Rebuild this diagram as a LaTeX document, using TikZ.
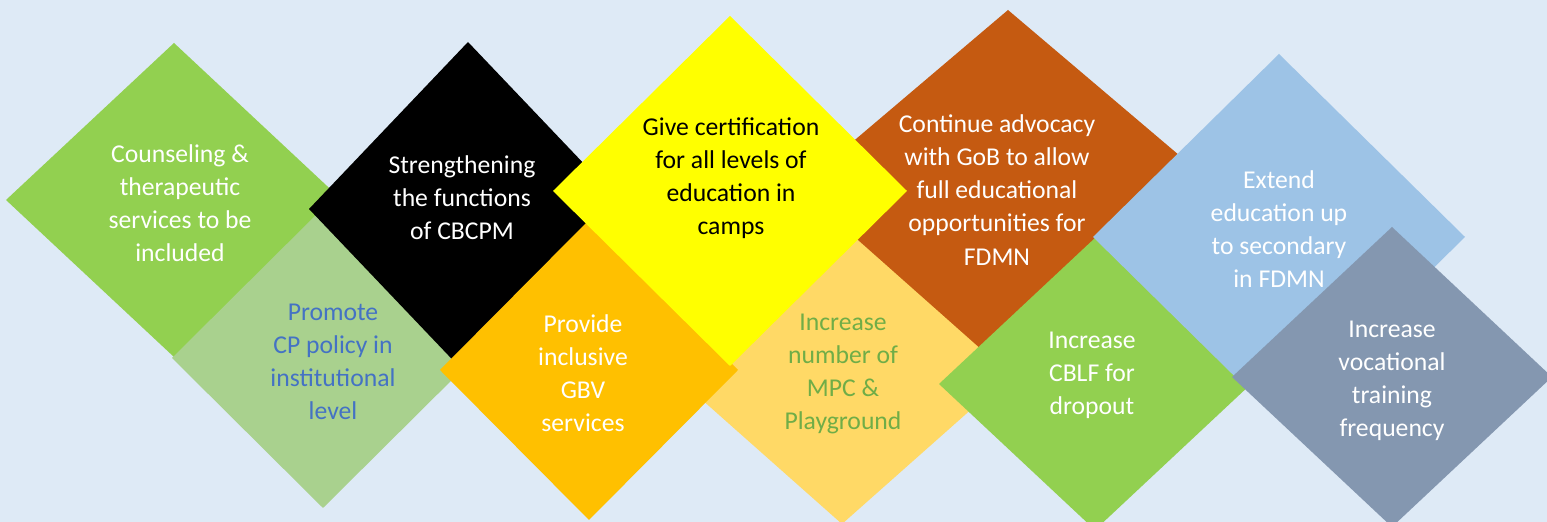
\documentclass[tikz,border=0pt]{standalone}
\usepackage{fontspec}
\setmainfont{Carlito}

\definecolor{PageBg}{HTML}{DEEAF6}
\definecolor{LeafGreen}{HTML}{92D050}
\definecolor{SoftGreen}{HTML}{A9D18E}
\definecolor{Amber}{HTML}{FFC000}
\definecolor{Lemon}{HTML}{FFFF00}
\definecolor{Sand}{HTML}{FFD966}
\definecolor{Rust}{HTML}{C55A11}
\definecolor{Sky}{HTML}{9DC3E6}
\definecolor{Slate}{HTML}{8497B0}
\definecolor{InkBlue}{HTML}{4472C4}
\definecolor{InkGreen}{HTML}{70AD47}

\begin{document}
\begin{tikzpicture}[
    % Environment Config
    x=0.01cm, y=-0.01cm,
    font=\fontsize{7.3}{9.4}\selectfont,
    Tile/.style={% Style for the diamond tiles
      draw=none,
      fill=#1
    },
    TileText/.style={% Style for the text inside a tile
      align=center,
      text=white,
      inner sep=0pt
    }
  ]

  \def\MyTile(#1)#2#3#4{% Custom diamond: centre, half width, half height, colour
    \fill[Tile=#4] (#1) ++(0,-#3) -- ++(#2,#3) -- ++(-#2,#3) -- ++(-#2,-#3) -- cycle;
  }

  % Page background
  \fill[PageBg] (0,0) rectangle (1547,522);
  \useasboundingbox (0,0) rectangle (1547,522);

  % Put the tiles in drawing order (back to front)
  \MyTile(174,200){168}{157}{LeafGreen}
  \MyTile(323,358){151}{150}{SoftGreen}
  \MyTile(468,209){159}{167}{black}
  \MyTile(1008,195){218}{185}{Rust}
  \MyTile(842,375){168}{149}{Sand}
  \MyTile(589,370){149}{150}{Amber}
  \MyTile(730,191){177}{175}{Lemon}
  \MyTile(1095,384){156}{146}{LeafGreen}
  \MyTile(1279,237){186}{183}{Sky}
  \MyTile(1392,377){160}{150}{Slate}

  % Texts of the tiles
  \node[TileText] (counsel) at (180,203) {Counseling \&\\therapeutic\\services to be\\included};
  \node[TileText,text=InkBlue] (promote) at (333,362) {Promote\\CP policy in\\institutional\\level};
  \node[TileText] (cbcpm) at (462,198) {Strengthening\\the functions\\of CBCPM};
  \node[TileText] (gbv) at (583,373) {Provide\\inclusive\\GBV\\services};
  \node[TileText,text=black] (certify) at (731,178) {Give certification\\for all levels of\\education in\\camps};
  \node[TileText,text=InkGreen] (mpc) at (843,374) {Increase\\number of\\MPC \&\\Playground};
  \node[TileText] (advocacy) at (997,190) {Continue advocacy\\with GoB to allow\\full educational\\opportunities for\\FDMN};
  \node[TileText] (cblf) at (1092,375) {Increase\\CBLF for\\dropout};
  \node[TileText] (extend) at (1279,229) {Extend\\education up\\to secondary\\in FDMN};
  \node[TileText] (vocational) at (1392,381) {Increase\\vocational\\training\\frequency};

\end{tikzpicture}
\end{document}
